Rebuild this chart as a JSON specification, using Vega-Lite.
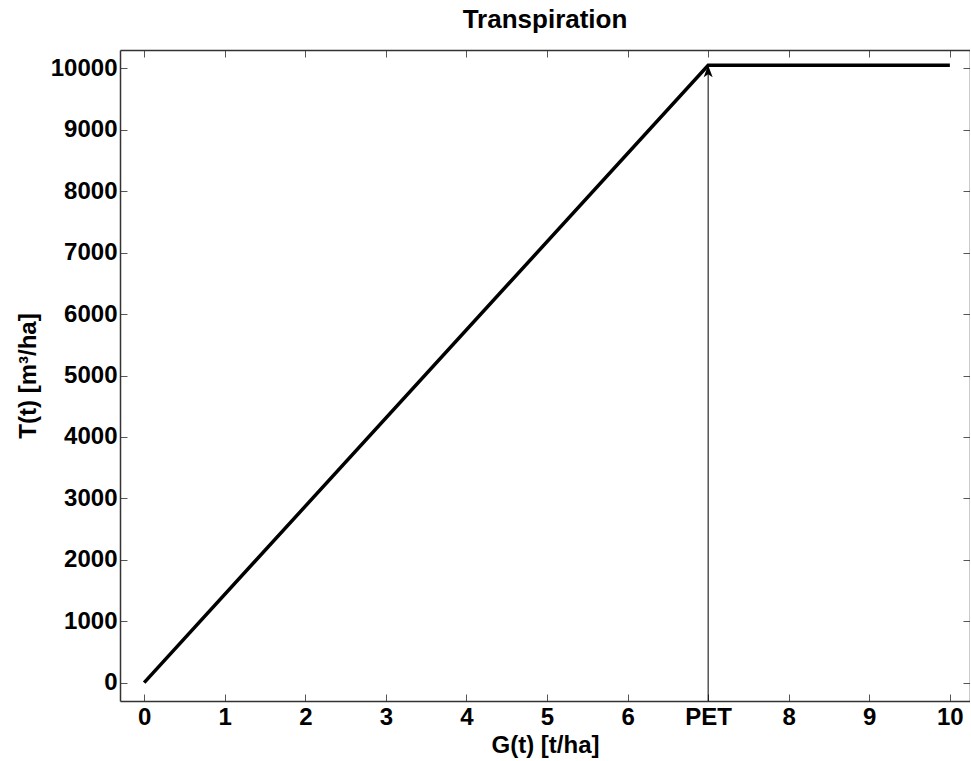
{
  "$schema": "https://vega.github.io/schema/vega-lite/v6.json",
  "autosize": "none",
  "padding": {"left": 120, "top": 50, "right": 0, "bottom": 60},
  "width": 850,
  "height": 651,
  "background": "white",
  "title": {"text": "Transpiration", "fontSize": 26, "font": "Liberation Sans", "fontWeight": "bold", "color": "black", "anchor": "middle", "offset": 17},
  "config": {
    "view": {"stroke": null},
    "font": "Liberation Sans",
    "axis": {
      "grid": false,
      "domainColor": "#333333",
      "domainWidth": 1.5,
      "tickColor": "#555555",
      "tickSize": -7,
      "tickWidth": 1,
      "labelFont": "Liberation Sans",
      "labelFontSize": 24,
      "labelFontWeight": "bold",
      "labelColor": "black",
      "titleFont": "Liberation Sans",
      "titleFontSize": 24,
      "titleFontWeight": "bold",
      "titleColor": "black"
    }
  },
  "datasets": {
    "curve": [
      {"G": 0, "T": 0},
      {"G": 7, "T": 10050},
      {"G": 10, "T": 10050}
    ],
    "arrow": [
      {"G": 7, "T0": -300, "T1": 10050}
    ]
  },
  "resolve": {"axis": {"x": "independent", "y": "independent"}},
  "layer": [
    {
      "data": {"name": "curve"},
      "mark": {"type": "line", "color": "black", "strokeWidth": 3.5},
      "encoding": {
        "x": {"field": "G", "type": "quantitative",
          "scale": {"domain": [-0.3, 10.25], "nice": false, "zero": false},
          "axis": {"orient": "bottom", "values": [0,1,2,3,4,5,6,7,8,9,10], "title": "G(t) [t/ha]", "titlePadding": 4, "labelPadding": 11,
            "labelExpr": "datum.value == 7 ? 'PET' : datum.label"}},
        "y": {"field": "T", "type": "quantitative",
          "scale": {"domain": [-300, 10300], "nice": false, "zero": false},
          "axis": {"orient": "left", "values": [0,1000,2000,3000,4000,5000,6000,7000,8000,9000,10000], "title": "T(t) [m³/ha]", "titlePadding": 10, "labelPadding": 10, "format": "d"}}
      }
    },
    {
      "data": {"name": "arrow"},
      "mark": {"type": "rule", "color": "black", "strokeWidth": 1},
      "encoding": {
        "x": {"field": "G", "type": "quantitative",
          "axis": {"orient": "top", "values": [0,1,2,3,4,5,6,7,8,9,10], "labels": false, "title": null}},
        "y": {"field": "T0", "type": "quantitative",
          "axis": {"orient": "right", "values": [0,1000,2000,3000,4000,5000,6000,7000,8000,9000,10000], "labels": false, "title": null}},
        "y2": {"field": "T1"}
      }
    },
    {
      "data": {"name": "arrow"},
      "mark": {"type": "point", "shape": "M0,0 L-0.75,2 L0,1.5 L0.75,2 Z", "filled": true, "color": "black", "size": 144, "opacity": 1},
      "encoding": {
        "x": {"field": "G", "type": "quantitative", "axis": null},
        "y": {"field": "T1", "type": "quantitative", "axis": null}
      }
    }
  ]
}
